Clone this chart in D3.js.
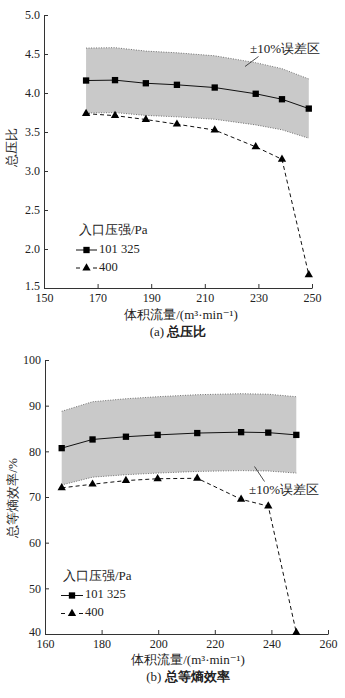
<!DOCTYPE html>
<html>
<head>
<meta charset="utf-8">
<script src="https://cdn.jsdelivr.net/npm/d3@7"></script>
<style>
  html, body { margin: 0; padding: 0; background: #fff; }
  svg { display: block; }
  svg text { font-family: Liberation Serif, DejaVu Serif, serif; }
</style>
</head>
<body>
<svg id="chart" width="345" height="698"></svg>
<script>
// Volume flow (m3/min) at each operating point
const flowA = [165.7, 176.5, 188, 199.6, 213.7, 229, 238.8, 248.8];
const flowB = [165.9, 176.8, 188.6, 199.8, 213.8, 229.3, 238.9, 248.8];

// (a) total pressure ratio
const ratioAtm = [4.16, 4.165, 4.125, 4.105, 4.07, 3.99, 3.92, 3.80];
const ratioLow = [3.735, 3.71, 3.66, 3.60, 3.525, 3.31, 3.15, 1.67];

// (b) total isentropic efficiency, %
const effAtm = [80.7, 82.6, 83.2, 83.6, 84.0, 84.2, 84.1, 83.6];
const effLow = [72.0, 72.8, 73.6, 74.0, 74.1, 69.5, 68.0, 40.3];

// Axis ticks
const xTicksA = [150, 170, 190, 210, 230, 250];
const yTicksA = [1.5, 2.0, 2.5, 3.0, 3.5, 4.0, 4.5, 5.0];
const xTicksB = [160, 180, 200, 220, 240, 260];
const yTicksB = [40, 50, 60, 70, 80, 90, 100];

// Text
const seriesNames = ["101 325", "400"];
const legendTitle = "入口压强/Pa";
const bandLabel = "±10%误差区";
const xTitle = "体积流量/(m³·min⁻¹)";
const bandRatio = 0.10;

const FONT = "Liberation Serif, DejaVu Serif, serif";

const svg = d3.select("#chart");

function label(sel, size) {
  return sel.style("font-family", FONT).attr("font-size", size || 13).attr("fill", "#222");
}

function panel(cfg) {
  const g = svg.append("g");
  const x = d3.scaleLinear().domain(cfg.xDomain).range(cfg.xRange);
  const y = d3.scaleLinear().domain(cfg.yDomain).range(cfg.yRange);
  const pts = (xs, ys) => xs.map((v, i) => [v, ys[i]]);

  // ±10% band around the atmospheric-inlet curve
  const band = cfg.flow.map((v, i) => ({ x: v, lo: cfg.atm[i] * (1 - bandRatio), hi: cfg.atm[i] * (1 + bandRatio) }));
  g.append("path")
    .datum(band)
    .attr("fill", "#c9c9c9")
    .attr("d", d3.area().x(d => x(d.x)).y0(d => y(d.lo)).y1(d => y(d.hi)));
  ["lo", "hi"].forEach(k => {
    g.append("path")
      .datum(band)
      .attr("fill", "none")
      .attr("stroke", "#555")
      .attr("stroke-width", 0.8)
      .attr("stroke-dasharray", "1,1.5")
      .attr("d", d3.line().x(d => x(d.x)).y(d => y(d[k])));
  });

  // Axes
  const ax = g.append("g")
    .attr("transform", `translate(0,${cfg.yRange[0]})`)
    .call(d3.axisBottom(x).tickValues(cfg.xTicks).tickSizeInner(-4).tickSizeOuter(0).tickPadding(5).tickFormat(d3.format("d")));
  const ay = g.append("g")
    .attr("transform", `translate(${cfg.xRange[0]},0)`)
    .call(d3.axisLeft(y).tickValues(cfg.yTicks).tickSizeInner(-4).tickSizeOuter(0).tickPadding(4).tickFormat(cfg.yFormat));
  [ax, ay].forEach(a => {
    a.attr("font-family", null);
    a.select(".domain").attr("stroke", "#333").attr("stroke-width", 1);
    a.selectAll(".tick line").attr("stroke", "#333");
    label(a.selectAll(".tick text"), 12);
  });
  // lowest y label sits just above the corner
  ay.selectAll(".tick text").filter(d => d === cfg.yTicks[0]).attr("dy", "0.1em");

  // Series
  const solid = pts(cfg.flow, cfg.atm);
  const dashed = pts(cfg.flow, cfg.low);
  const line = d3.line().x(d => x(d[0])).y(d => y(d[1]));
  g.append("path").datum(solid).attr("fill", "none").attr("stroke", "#111").attr("stroke-width", 1).attr("d", line);
  g.append("path").datum(dashed).attr("fill", "none").attr("stroke", "#111").attr("stroke-width", 1)
    .attr("stroke-dasharray", "4,3").attr("d", line);

  const sq = d3.symbol().type(d3.symbolSquare).size(40);
  const tri = d3.symbol().type(d3.symbolTriangle).size(30);
  g.selectAll(".sq").data(solid).enter().append("path")
    .attr("d", sq).attr("fill", "#000")
    .attr("transform", d => `translate(${x(d[0])},${y(d[1])})`);
  g.selectAll(".tri").data(dashed).enter().append("path")
    .attr("d", tri).attr("fill", "#000")
    .attr("transform", d => `translate(${x(d[0])},${y(d[1])})`);

  // Band annotation with leader line
  const an = cfg.note;
  g.append("line").attr("x1", an.lx1).attr("y1", an.ly1).attr("x2", an.lx2).attr("y2", an.ly2)
    .attr("stroke", "#222").attr("stroke-width", 0.8);
  label(g.append("text"), 13).attr("x", an.tx).attr("y", an.ty)
    .attr("dominant-baseline", "middle").text(bandLabel);

  // Legend
  const lg = g.append("g").attr("transform", `translate(${cfg.legend[0]},${cfg.legend[1]})`);
  label(lg.append("text"), 13).attr("x", cfg.legendTitleDx).attr("y", 0)
    .attr("dominant-baseline", "middle").text(legendTitle);
  lg.append("line").attr("x1", 0).attr("x2", cfg.legendLen).attr("y1", 18.5).attr("y2", 18.5)
    .attr("stroke", "#111").attr("stroke-width", 1);
  lg.append("path").attr("d", sq).attr("fill", "#000").attr("transform", `translate(${cfg.legendLen / 2},18.5)`);
  label(lg.append("text"), 12.5).attr("x", cfg.legendLen + 2).attr("y", 18.5)
    .attr("dominant-baseline", "middle").text(seriesNames[0]);
  [[0, 4], [cfg.legendLen - 4, cfg.legendLen]].forEach(s => {
    lg.append("line").attr("x1", s[0]).attr("x2", s[1]).attr("y1", 36.5).attr("y2", 36.5)
      .attr("stroke", "#111").attr("stroke-width", 1);
  });
  lg.append("path").attr("d", tri).attr("fill", "#000").attr("transform", `translate(${cfg.legendLen / 2},36.5)`);
  label(lg.append("text"), 12.5).attr("x", cfg.legendLen + 2).attr("y", 36.5)
    .attr("dominant-baseline", "middle").text(seriesNames[1]);

  // Titles
  label(g.append("text"), 13)
    .attr("transform", `translate(${cfg.yTitlePos[0]},${cfg.yTitlePos[1]}) rotate(-90)`)
    .attr("text-anchor", "middle").attr("dominant-baseline", "middle")
    .text(cfg.yTitle);
  label(g.append("text"), 13).attr("x", cfg.xTitlePos[0]).attr("y", cfg.xTitlePos[1])
    .attr("text-anchor", "middle").attr("dominant-baseline", "middle")
    .text(xTitle);
  const cap = label(g.append("text"), 13).attr("x", cfg.capPos[0]).attr("y", cfg.capPos[1])
    .attr("text-anchor", "middle").attr("dominant-baseline", "middle");
  cap.append("tspan").text(cfg.capTag + " ");
  cap.append("tspan").attr("font-weight", "bold").text(cfg.caption);
}

panel({
  flow: flowA, atm: ratioAtm, low: ratioLow,
  xDomain: [150, 250], xRange: [44, 312],
  yDomain: [1.5, 5.0], yRange: [288, 15],
  xTicks: xTicksA, yTicks: yTicksA, yFormat: d3.format(".1f"),
  note: { tx: 250, ty: 50, lx1: 245, ly1: 66.5, lx2: 258.5, ly2: 56.5 },
  legend: [76, 231.5], legendTitleDx: 3, legendLen: 21,
  yTitle: "总压比", yTitlePos: [13, 147],
  xTitlePos: [181, 316.5], capPos: [178, 333], capTag: "(a)", caption: "总压比"
});

panel({
  flow: flowB, atm: effAtm, low: effLow,
  xDomain: [160, 260], xRange: [45, 328],
  yDomain: [40, 100], yRange: [634, 360],
  xTicks: xTicksB, yTicks: yTicksB, yFormat: d3.format("d"),
  note: { tx: 249, ty: 491, lx1: 254.5, ly1: 466.5, lx2: 264.5, ly2: 481.5 },
  legend: [61, 577], legendTitleDx: 2, legendLen: 22,
  yTitle: "总等熵效率/%", yTitlePos: [14, 498],
  xTitlePos: [188, 661.5], capPos: [188, 678], capTag: "(b)", caption: "总等熵效率"
});
</script>
</body>
</html>
